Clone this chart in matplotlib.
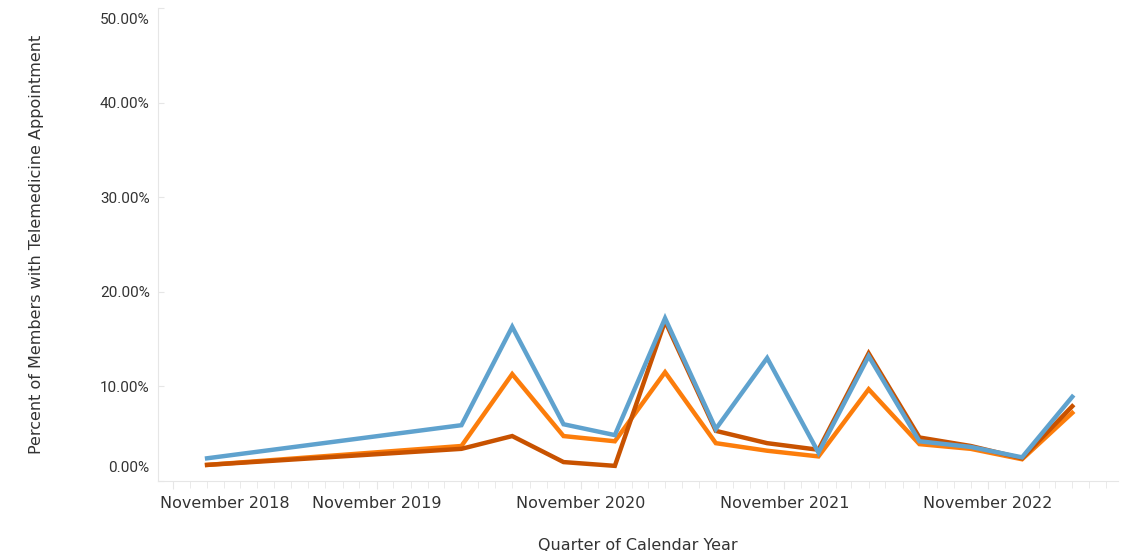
#-----------------------------------------------------------------------------------------------------#

import numpy as np
import pandas as pd
import matplotlib
matplotlib.use('Agg')
import matplotlib.pyplot as plt
import matplotlib.dates as mdates
from matplotlib.ticker import FuncFormatter, FixedLocator
from matplotlib.transforms import ScaledTranslation

#-----------------------------------------------------------------------------------------------------#

# Quarter start dates (Tableau continuous date axis)
quarters = ['2019-01-01', '2020-04-01', '2020-07-01', '2020-10-01', '2021-01-01', '2021-04-01',
            '2021-07-01', '2021-10-01', '2022-01-01', '2022-04-01', '2022-07-01', '2022-10-01',
            '2023-01-01', '2023-04-01']

# Percent of members with a telemedicine appointment, one list per series
series_blue = [2.4, 5.9, 16.3, 6.0, 4.85, 17.2, 5.5, 13.0, 3.0, 13.2, 4.2, 3.6, 2.5, 8.9]
series_orange = [1.7, 3.7, 11.3, 4.75, 4.2, 11.5, 4.0, 3.2, 2.6, 9.7, 3.9, 3.4, 2.3, 7.2]
series_dark = [1.7, 3.4, 4.75, 2.0, 1.6, 16.9, 5.3, 4.0, 3.3, 13.5, 4.6, 3.7, 2.4, 7.9]

x_tick_dates = ['2018-11-01', '2019-11-01', '2020-11-01', '2021-11-01', '2022-11-01']
x_tick_labels = ['November 2018', 'November 2019', 'November 2020', 'November 2021', 'November 2022']
y_ticks = [0, 10, 20, 30, 40, 50]

#-----------------------------------------------------------------------------------------------------#

text_color = '#333333'
axis_color = '#e6e6e6'

fig = plt.figure(figsize=(11.22, 5.51), dpi=100)
ax = fig.add_axes([158 / 1122, 70 / 551, 960 / 1122, 473 / 551])

dates = pd.to_datetime(quarters)
ax.plot(dates, series_orange, color='#FC7D0B', lw=3.2, solid_joinstyle='miter', zorder=2)
ax.plot(dates, series_dark, color='#C85200', lw=3.2, solid_joinstyle='miter', zorder=3)
ax.plot(dates, series_blue, color='#5FA2CE', lw=3.2, solid_joinstyle='miter', zorder=4)

#-----------------------------------------------------------------------------------------------------#

# Axis ranges
ax.set_xlim(pd.Timestamp('2018-10-05'), pd.Timestamp('2023-06-22'))
ax.set_ylim(0, 50)

# Spines
for side in ['top', 'right']:
    ax.spines[side].set_visible(False)
ax.spines['left'].set_color(axis_color)
ax.spines['bottom'].set_color(axis_color)

# Y axis
ax.set_yticks(y_ticks)
ax.yaxis.set_major_formatter(FuncFormatter(lambda v, p: '%.2f%%' % v))
ax.tick_params(axis='y', direction='in', length=4, color=axis_color, labelcolor=text_color,
               labelsize=11, pad=6)
ylabels = ax.get_yticklabels()
for lab in ylabels:
    lab.set_fontfamily('Roboto')
ylabels[0].set_transform(ylabels[0].get_transform() + ScaledTranslation(0, 14 / 100, fig.dpi_scale_trans))
ylabels[-1].set_transform(ylabels[-1].get_transform() + ScaledTranslation(0, -10 / 100, fig.dpi_scale_trans))

# X axis
ax.xaxis.set_major_locator(FixedLocator(mdates.date2num(pd.to_datetime(x_tick_dates))))
ax.set_xticklabels(x_tick_labels)
ax.xaxis.set_minor_locator(mdates.MonthLocator())
ax.tick_params(axis='x', which='major', length=6, color=axis_color, labelcolor=text_color,
               labelsize=11.5, pad=5)
ax.tick_params(axis='x', which='minor', length=5, color=axis_color)
first = ax.get_xticklabels()[0]
first.set_horizontalalignment('left')
first.set_transform(first.get_transform() + ScaledTranslation(-13 / 100, 0, fig.dpi_scale_trans))

ax.set_ylabel('Percent of Members with Telemedicine Appointment', color=text_color, fontsize=11.5)
ax.set_xlabel('Quarter of Calendar Year', color=text_color, fontsize=11.5, labelpad=19)
ax.yaxis.set_label_coords(-114 / 960, 0.5)

#-----------------------------------------------------------------------------------------------------#

fig.savefig('out.png', dpi=100)

#-----------------------------------------------------------------------------------------------------#
